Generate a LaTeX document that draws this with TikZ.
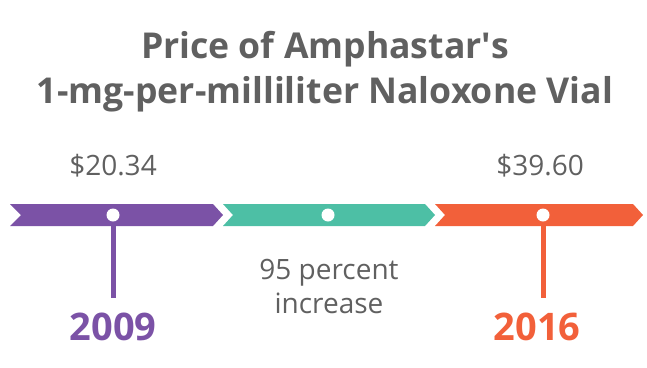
\documentclass[tikz,border=0pt]{standalone}
\usepackage{fontspec}
\setmainfont{Open Sans}
\definecolor{barpurple}{HTML}{7B52A6}
\definecolor{barteal}{HTML}{4DBFA5}
\definecolor{barorange}{HTML}{F2603A}
\definecolor{textgray}{HTML}{606060}

\begin{document}
\begin{tikzpicture}[x=1pt,y=-1pt,
    price/.style={text=textgray,font=\fontsize{28}{34}\selectfont,inner sep=0pt},
    year/.style={font=\fontsize{38}{44}\selectfont\bfseries,inner sep=0pt},
    dot/.style={circle,fill=white,minimum size=13pt,inner sep=0pt},
    stem/.style={line width=5pt}]
    \useasboundingbox (0,0) rectangle (647,367);
    % title
    \node[text=textgray,font=\fontsize{35.6}{45}\selectfont\bfseries,align=center,inner sep=0pt] (title) at (325,72)
        {Price of Amphastar\textquotesingle s\\1-mg-per-milliliter Naloxone Vial};
    % chevron bars
    \fill[barpurple] (10,204) -- (213,204) -- (223,215) -- (213,226) -- (10,226) -- (21,215) -- cycle;
    \fill[barteal] (223,204) -- (425,204) -- (435,215) -- (425,226) -- (223,226) -- (233,215) -- cycle;
    \fill[barorange] (435,204) -- (633,204) -- (643,215) -- (633,226) -- (435,226) -- (445,215) -- cycle;
    % stems and dots
    \coordinate (end09) at (113,298);
    \coordinate (end16) at (543,298);
    \draw[stem,barpurple] (113,215) -- (end09);
    \draw[stem,barorange] (543,215) -- (end16);
    \node[dot] (dot09) at (113,215) {};
    \node[dot] (dotmid) at (328,215) {};
    \node[dot] (dot16) at (543,215) {};
    % labels
    \node[price] (price09) at (113,166) {\$20.34};
    \node[price] (price16) at (540,166) {\$39.60};
    \node[price,align=center] (note) at (329,286) {95 percent\\increase};
    \node[year,text=barpurple] (year09) at (113,327) {2009};
    \node[year,text=barorange] (year16) at (537,327) {2016};
\end{tikzpicture}
\end{document}
